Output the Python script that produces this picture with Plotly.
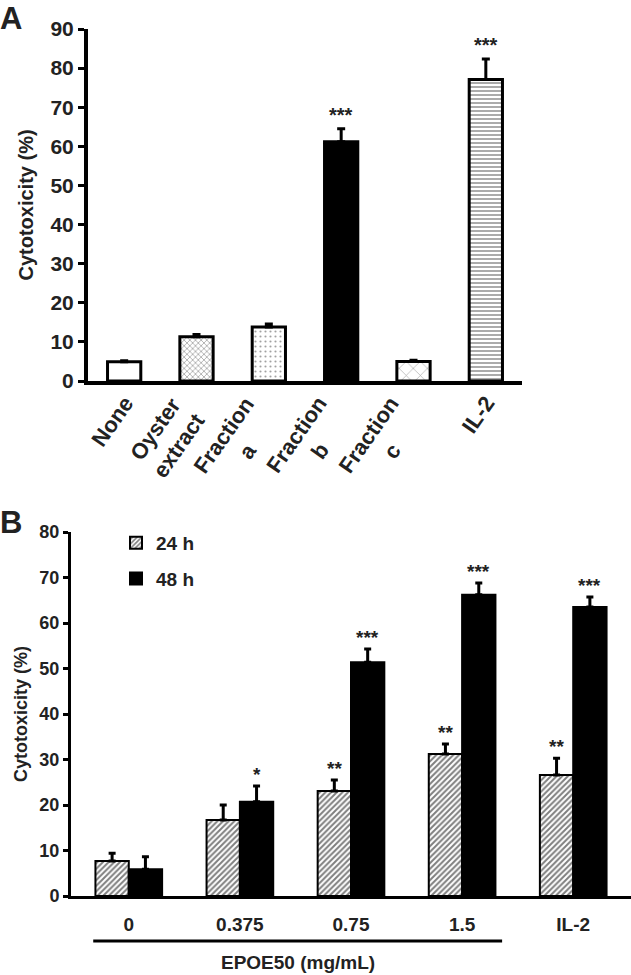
import plotly.graph_objects as go

# ---------------- data ----------------
a_categories = ["None", "Oyster<br>extract", "Fraction<br>a", "Fraction<br>b", "Fraction<br>c", "IL-2"]
a_values = [4.9, 11.3, 13.8, 61.2, 5.0, 77.1]
a_errors = [0.3, 0.6, 0.8, 3.3, 0.3, 5.2]
a_stars = ["", "", "", "***", "", "***"]
a_yticks = [0, 10, 20, 30, 40, 50, 60, 70, 80, 90]

b_categories = ["0", "0.375", "0.75", "1.5", "IL-2"]
b_24h = [7.7, 16.7, 23.1, 31.2, 26.6]
b_24h_err = [1.7, 3.3, 2.4, 2.2, 3.7]
b_48h = [5.9, 20.7, 51.4, 66.2, 63.5]
b_48h_err = [2.7, 3.5, 2.9, 2.6, 2.2]
b_24h_stars = ["", "", "**", "**", "**"]
b_48h_stars = ["", "*", "***", "***", "***"]
b_yticks = [0, 10, 20, 30, 40, 50, 60, 70, 80]

W, H = 631, 975
FONT = "Liberation Sans, Arial, sans-serif"
TXT = "#222"


def px_x(p):
    return p / W


def px_y(p):
    return 1 - p / H


fig = go.Figure()

# ---------------- panel A ----------------
fig.add_trace(go.Bar(
    x=a_categories, y=a_values, xaxis="x", yaxis="y", width=0.46,
    showlegend=False,
    marker=dict(
        color=["white", "white", "white", "black", "white", "white"],
        line=dict(color="black", width=3),
        pattern=dict(
            shape=["", "x", ".", "", "x", "-"],
            fgcolor=["black", "#333", "#333", "black", "#555", "black"],
            bgcolor="white",
            size=[6, 4, 5, 6, 10, 4],
            solidity=[0.2, 0.35, 0.15, 0.2, 0.12, 0.45],
            fillmode="overlay",
        ),
    ),
    error_y=dict(type="data", symmetric=False, array=a_errors,
                 arrayminus=[0] * len(a_errors), color="black",
                 thickness=3, width=4),
))

# ---------------- panel B ----------------
fig.add_trace(go.Bar(
    name="24 h", x=b_categories, y=b_24h, xaxis="x2", yaxis="y2",
    legendgroup="g24",
    marker=dict(color="white", line=dict(color="black", width=2),
                pattern=dict(shape="/", fgcolor="black", bgcolor="white",
                             size=4, solidity=0.5)),
    error_y=dict(type="data", symmetric=False, array=b_24h_err,
                 arrayminus=[0] * len(b_24h_err), color="black",
                 thickness=3, width=3.5),
))
fig.add_trace(go.Bar(
    name="48 h", x=b_categories, y=b_48h, xaxis="x2", yaxis="y2",
    legendgroup="g48",
    marker=dict(color="black", line=dict(color="black", width=2)),
    error_y=dict(type="data", symmetric=False, array=b_48h_err,
                 arrayminus=[0] * len(b_48h_err), color="black",
                 thickness=3, width=3.5),
))

annotations = []
# rotated category labels of panel A
for i, lab in enumerate(a_categories):
    annotations.append(dict(
        x=i, y=px_y(389), xref="x", yref="paper", text=lab, showarrow=False,
        xanchor="right", yanchor="top", xshift=17, textangle=-55, align="center",
        font=dict(family=FONT, size=22, color=TXT, weight="bold")))

for i, s in enumerate(a_stars):
    if s:
        annotations.append(dict(
            x=i, y=a_values[i] + a_errors[i], xref="x", yref="y",
            text=s, showarrow=False, yanchor="bottom", yshift=1,
            font=dict(family=FONT, size=20, color=TXT, weight="bold")))
for i, s in enumerate(b_24h_stars):
    if s:
        annotations.append(dict(
            x=i - 0.15, y=b_24h[i] + b_24h_err[i], xref="x2", yref="y2",
            text=s, showarrow=False, yanchor="bottom", yshift=-1,
            font=dict(family=FONT, size=19, color=TXT, weight="bold")))
for i, s in enumerate(b_48h_stars):
    if s:
        annotations.append(dict(
            x=i + 0.15, y=b_48h[i] + b_48h_err[i], xref="x2", yref="y2",
            text=s, showarrow=False, yanchor="bottom", yshift=-1,
            font=dict(family=FONT, size=19, color=TXT, weight="bold")))

annotations += [
    dict(x=0, y=1.0, xref="paper", yref="paper", text="A", showarrow=False,
         xanchor="left", yanchor="top", xshift=-2, yshift=1,
         font=dict(family=FONT, size=31, color=TXT, weight="bold")),
    dict(x=0, y=px_y(503), xref="paper", yref="paper", text="B", showarrow=False,
         xanchor="left", yanchor="top", xshift=-2,
         font=dict(family=FONT, size=31, color=TXT, weight="bold")),
    dict(x=1.52, y=px_y(962), xref="x2", yref="paper", text="EPOE50 (mg/mL)",
         showarrow=False, xanchor="center", yanchor="middle",
         font=dict(family=FONT, size=19, color=TXT, weight="bold")),
]

shapes = [
    dict(type="line", xref="x2", yref="paper", x0=-0.32, x1=3.36,
         y0=px_y(941), y1=px_y(941), line=dict(color="black", width=3)),
]

fig.update_layout(
    width=W, height=H,
    margin=dict(l=0, r=0, t=0, b=0),
    paper_bgcolor="white", plot_bgcolor="white",
    barmode="group", bargap=0.4, bargroupgap=0,
    font=dict(family=FONT, color=TXT),
    annotations=annotations, shapes=shapes,
    legend=dict(x=px_x(116), y=px_y(524), xanchor="left", yanchor="top",
                bgcolor="rgba(0,0,0,0)", tracegroupgap=8,
                font=dict(family=FONT, size=19, color=TXT, weight="bold")),
    xaxis=dict(domain=[px_x(88), px_x(522)], anchor="y", automargin=False,
               range=[-0.5, 5.5], showline=True, linecolor="black", linewidth=4,
               ticks="", showticklabels=False,
               showgrid=False, zeroline=False),
    yaxis=dict(domain=[px_y(381), px_y(29)], anchor="x", automargin=False,
               range=[0, 90], tickvals=a_yticks, showline=True, linecolor="black",
               linewidth=4, ticks="outside", ticklen=6, tickwidth=3,
               tickcolor="black",
               tickfont=dict(family=FONT, size=21, color=TXT, weight="bold"),
               title=dict(text="Cytotoxicity (%)", standoff=12,
                          font=dict(family=FONT, size=20, color=TXT, weight="bold")),
               showgrid=False, zeroline=False),
    xaxis2=dict(domain=[px_x(71), 1.0], anchor="y2", automargin=False,
                range=[-0.52, 4.52], showline=True, linecolor="black", linewidth=3,
                ticks="", ticklabelstandoff=9,
                tickfont=dict(family=FONT, size=19, color=TXT, weight="bold"),
                showgrid=False, zeroline=False),
    yaxis2=dict(domain=[px_y(896), px_y(532)], anchor="x2", automargin=False,
                range=[0, 80], tickvals=b_yticks, showline=True, linecolor="black",
                linewidth=3, ticks="outside", ticklen=5, tickwidth=3,
                tickcolor="black",
                tickfont=dict(family=FONT, size=18, color=TXT, weight="bold"),
                title=dict(text="Cytotoxicity (%)", standoff=8,
                           font=dict(family=FONT, size=18, color=TXT, weight="bold")),
                showgrid=False, zeroline=False),
)

# remove the browser's default 8px body margin so the figure sits at (0, 0)
fig.write_html("out.html", config={"displayModeBar": False},
               post_script="document.body.style.margin='0';document.body.style.padding='0';")
